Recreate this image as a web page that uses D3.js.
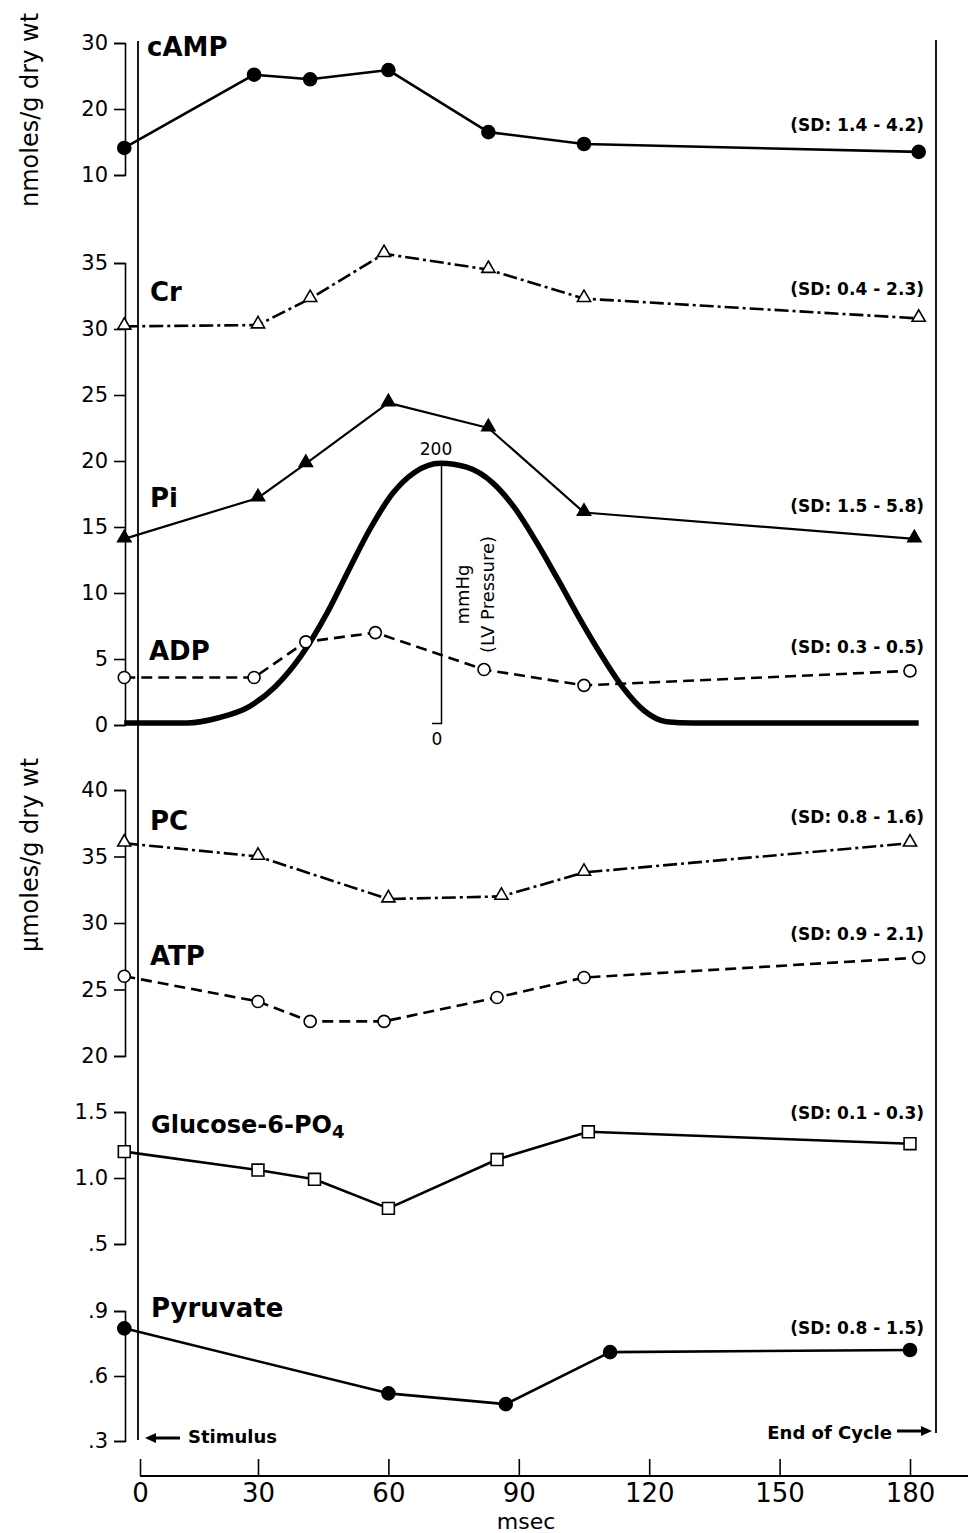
<!DOCTYPE html>
<html>
<head>
<meta charset="utf-8">
<script src="https://cdn.jsdelivr.net/npm/d3@7"></script>
<style>
  body { margin: 0; background: #fff; }
  text { font-family: "DejaVu Sans", sans-serif; fill: #000; }
</style>
</head>
<body>
<div id="chart"></div>
<script>
// time points (msec) and values
var xTicks = [0, 30, 60, 90, 120, 150, 180];

var campT = [-4, 29, 42, 60, 83, 105, 182];
var campV = [14.1, 25.2, 24.5, 25.9, 16.5, 14.7, 13.5];

var crT = [-4, 30, 42, 59, 83, 105, 182];
var crV = [30.2, 30.3, 32.3, 35.7, 34.5, 32.3, 30.8];

var piT = [-4, 30, 41, 60, 83, 105, 181];
var piV = [14.1, 17.2, 19.8, 24.4, 22.5, 16.1, 14.1];

var adpT = [-4, 29, 41, 57, 82, 105, 180];
var adpV = [3.6, 3.6, 6.3, 7.0, 4.2, 3.0, 4.1];

// LV pressure trace (mmHg)
var lvT = [-4, 12, 20, 28, 34, 40, 46, 51, 56, 61, 66, 72, 78, 84, 89, 94, 99, 104, 109, 114, 119, 124, 130, 182];
var lvV = [0, 0, 4, 13, 28, 52, 85, 118, 150, 176, 192, 199, 196, 184, 165, 139, 110, 80, 52, 27, 9, 1, 0, 0];

var pcT = [-4, 30, 60, 86, 105, 180];
var pcV = [36.0, 35.0, 31.8, 32.0, 33.8, 36.0];

var atpT = [-4, 30, 42, 59, 85, 105, 182];
var atpV = [26.0, 24.1, 22.6, 22.6, 24.4, 25.9, 27.4];

var gluT = [-4, 30, 43, 60, 85, 106, 180];
var gluV = [1.20, 1.06, 0.99, 0.77, 1.14, 1.35, 1.26];

var pyrT = [-4, 60, 87, 111, 180];
var pyrV = [0.82, 0.52, 0.47, 0.71, 0.72];

var sdLabels = ["(SD: 1.4 - 4.2)", "(SD: 0.4 - 2.3)", "(SD: 1.5 - 5.8)", "(SD: 0.3 - 0.5)",
                "(SD: 0.8 - 1.6)", "(SD: 0.9 - 2.1)", "(SD: 0.1 - 0.3)", "(SD: 0.8 - 1.5)"];

var width = 968, height = 1533;

// the original time axis is hand drawn: first interval is shorter
var x = d3.scaleLinear().domain([0, 30, 180]).range([140, 258, 910]);

var yCamp = d3.scaleLinear().domain([10, 30]).range([175, 43]);
var yMid = d3.scaleLinear().domain([0, 35]).range([725, 263]);
var yLv = d3.scaleLinear().domain([0, 200]).range([723, 462]);
var yLow = d3.scaleLinear().domain([20, 40]).range([1056, 790]);
var yGlu = d3.scaleLinear().domain([0.5, 1.5]).range([1244, 1112]);
var yPyr = d3.scaleLinear().domain([0.3, 0.9]).range([1441, 1311]);

var axisX = 125;

var svg = d3.select("#chart").append("svg")
    .attr("width", width)
    .attr("height", height);

function zip(ts, vs) { return ts.map((t, i) => ({t: t, v: vs[i]})); }

// left bracket axes
function yAxis(scale, ticks, fmt) {
    svg.append("g")
        .attr("transform", `translate(${axisX},0)`)
        .call(d3.axisLeft(scale).tickValues(ticks).tickSize(11).tickSizeOuter(11).tickPadding(6).tickFormat(fmt))
        .call(g => g.selectAll("path, line").attr("stroke", "#000").attr("stroke-width", 1.6))
        .call(g => g.selectAll("text").style("font-size", "21px").attr("font-family", "DejaVu Sans"));
}
yAxis(yCamp, [10, 20, 30], d3.format("d"));
yAxis(yMid, [0, 5, 10, 15, 20, 25, 30, 35], d3.format("d"));
yAxis(yLow, [20, 25, 30, 35, 40], d3.format("d"));
yAxis(yGlu, [0.5, 1.0, 1.5], d => d == 0.5 ? ".5" : d3.format(".1f")(d));
yAxis(yPyr, [0.3, 0.6, 0.9], d => d3.format(".1f")(d).replace(/^0/, ""));

// stimulus and end of cycle lines
svg.append("line").attr("x1", x(0) - 2).attr("x2", x(0) - 2).attr("y1", 41).attr("y2", 1440)
    .attr("stroke", "#000").attr("stroke-width", 1.8);
svg.append("line").attr("x1", 936).attr("x2", 936).attr("y1", 40).attr("y2", 1433)
    .attr("stroke", "#000").attr("stroke-width", 1.8);

// x axis
var xg = svg.append("g").attr("transform", "translate(0,1476)")
    .call(d3.axisBottom(x).tickValues(xTicks).tickSizeInner(-17).tickSizeOuter(0).tickPadding(8))
    .call(g => g.select(".domain").remove())
    .call(g => g.selectAll("line").attr("stroke", "#000").attr("stroke-width", 1.6))
    .call(g => g.selectAll("text").style("font-size", "26px").attr("font-family", "DejaVu Sans Condensed, DejaVu Sans"));
xg.append("line").attr("x1", x(0)).attr("x2", width).attr("stroke", "#000").attr("stroke-width", 2);

svg.append("text").attr("x", 526).attr("y", 1529).attr("text-anchor", "middle")
    .style("font-size", "22px").text("msec");

// y labels
svg.append("text").attr("transform", "translate(38,110) rotate(-90)").attr("text-anchor", "middle")
    .style("font-size", "24px").text("nmoles/g dry wt");
svg.append("text").attr("transform", "translate(38,855) rotate(-90)").attr("text-anchor", "middle")
    .style("font-size", "24px").text("µmoles/g dry wt");

// LV pressure axis
svg.append("g").attr("transform", "translate(441,0)")
    .call(d3.axisLeft(yLv).tickValues([]).tickSizeOuter(9))
    .call(g => g.selectAll("path").attr("stroke", "#000").attr("stroke-width", 1.5));
svg.append("text").attr("x", 436).attr("y", yLv(200) - 7).attr("text-anchor", "middle")
    .style("font-size", "17px").text("200");
svg.append("text").attr("x", 437).attr("y", yLv(0) + 22).attr("text-anchor", "middle")
    .style("font-size", "17px").text("0");
svg.append("text").attr("transform", `translate(469,${yLv(100) + 2}) rotate(-90)`).attr("text-anchor", "middle")
    .style("font-size", "18px").text("mmHg");
svg.append("text").attr("transform", `translate(494,${yLv(100) + 2}) rotate(-90)`).attr("text-anchor", "middle")
    .style("font-size", "18px").text("(LV Pressure)");

// series
function series(ts, vs, y, opts) {
    var data = zip(ts, vs);
    var line = d3.line().x(d => x(d.t)).y(d => y(d.v));
    if (opts.curve) line.curve(opts.curve);
    svg.append("path").datum(data)
        .attr("d", line)
        .attr("fill", "none")
        .attr("stroke", "#000")
        .attr("stroke-width", opts.sw || 2.6)
        .attr("stroke-dasharray", opts.dash || null)
        .attr("stroke-linejoin", "round");
    if (!opts.marker) return;
    var g = svg.append("g");
    if (opts.marker == "circle") {
        g.selectAll("circle").data(data).join("circle")
            .attr("cx", d => x(d.t)).attr("cy", d => y(d.v))
            .attr("r", opts.filled ? 6.5 : 6)
            .attr("fill", opts.filled ? "#000" : "#fff")
            .attr("stroke", "#000").attr("stroke-width", 1.6);
    } else {
        var type = opts.marker == "triangle" ? d3.symbolTriangle : d3.symbolSquare;
        var size = opts.marker == "triangle" ? 75 : 140;
        g.selectAll("path").data(data).join("path")
            .attr("transform", d => `translate(${x(d.t)},${y(d.v) - (opts.marker == "triangle" ? 1 : 0)})`)
            .attr("d", d3.symbol(type, size))
            .attr("fill", opts.filled ? "#000" : "#fff")
            .attr("stroke", "#000").attr("stroke-width", 1.6);
    }
}

series(lvT, lvV, yLv, {curve: d3.curveMonotoneX, sw: 5.5});
series(campT, campV, yCamp, {marker: "circle", filled: true});
series(crT, crV, yMid, {marker: "triangle", dash: "14,4,3,4"});
series(piT, piV, yMid, {marker: "triangle", filled: true, sw: 2.2});
series(adpT, adpV, yMid, {marker: "circle", dash: "11,6"});
series(pcT, pcV, yLow, {marker: "triangle", dash: "14,4,3,4"});
series(atpT, atpV, yLow, {marker: "circle", dash: "11,6"});
series(gluT, gluV, yGlu, {marker: "square"});
series(pyrT, pyrV, yPyr, {marker: "circle", filled: true});

// series names
var names = [
    {t: "cAMP", x: 147, y: 56},
    {t: "Cr", x: 150, y: 301},
    {t: "Pi", x: 150, y: 507},
    {t: "ADP", x: 149, y: 660},
    {t: "PC", x: 150, y: 830},
    {t: "ATP", x: 150, y: 965},
    {t: "Pyruvate", x: 151, y: 1317}
];
svg.selectAll("text.name").data(names).join("text")
    .attr("class", "name")
    .attr("x", d => d.x).attr("y", d => d.y)
    .style("font-size", "26px").style("font-weight", "bold")
    .text(d => d.t);
var glu = svg.append("text").attr("x", 151).attr("y", 1133)
    .style("font-size", "24px").style("font-weight", "bold");
glu.append("tspan").text("Glucose-6-PO");
glu.append("tspan").attr("dy", 5).style("font-size", "18px").text("4");

// SD ranges
var sdY = [131, 295, 512, 653, 823, 940, 1119, 1334];
svg.selectAll("text.sd").data(sdLabels).join("text")
    .attr("class", "sd")
    .attr("x", 924).attr("y", (d, i) => sdY[i])
    .attr("text-anchor", "end")
    .style("font-size", "17px").style("font-weight", "bold")
    .text(d => d);

// stimulus / end of cycle
function arrow(x1, x2, y) {
    var dir = x2 > x1 ? 1 : -1;
    svg.append("line").attr("x1", x1).attr("x2", x2 - dir * 8).attr("y1", y).attr("y2", y)
        .attr("stroke", "#000").attr("stroke-width", 3);
    svg.append("path")
        .attr("d", `M${x2},${y} L${x2 - dir * 11},${y - 5} L${x2 - dir * 11},${y + 5} Z`)
        .attr("fill", "#000");
}
arrow(180, 145, 1438);
svg.append("text").attr("x", 188).attr("y", 1443).style("font-size", "18px").style("font-weight", "bold").text("Stimulus");
arrow(897, 932, 1431);
svg.append("text").attr("x", 892).attr("y", 1439).attr("text-anchor", "end")
    .style("font-size", "18px").style("font-weight", "bold").text("End of Cycle");
</script>
</body>
</html>
